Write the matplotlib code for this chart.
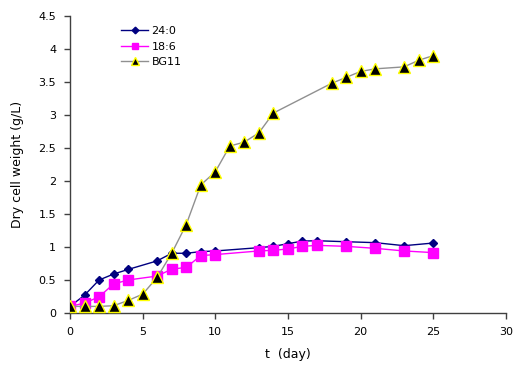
import matplotlib
matplotlib.use("Agg")
import matplotlib.pyplot as plt

days_24 = [0, 1, 2, 3, 4, 6, 7, 8, 9, 10, 13, 14, 15, 16, 17, 19, 21, 23, 25]
dcw_24 = [0.10, 0.27, 0.50, 0.59, 0.66, 0.79, 0.905, 0.905, 0.93, 0.94, 0.99, 1.01, 1.05, 1.09, 1.095, 1.08, 1.066, 1.02, 1.06]

days_18 = [0, 1, 2, 3, 4, 6, 7, 8, 9, 10, 13, 14, 15, 16, 17, 19, 21, 23, 25]
dcw_18 = [0.10, 0.15, 0.245, 0.44, 0.50, 0.56, 0.665, 0.69, 0.87, 0.885, 0.94, 0.95, 0.97, 1.01, 1.025, 1.01, 0.98, 0.94, 0.915]

days_bg = [0, 1, 2, 3, 4, 5, 6, 7, 8, 9, 10, 11, 12, 13, 14, 18, 19, 20, 21, 23, 24, 25]
dcw_bg = [0.10, 0.10, 0.10, 0.11, 0.19, 0.285, 0.54, 0.905, 1.34, 1.94, 2.14, 2.53, 2.59, 2.73, 3.03, 3.48, 3.57, 3.66, 3.70, 3.73, 3.83, 3.90]

fig = plt.figure(figsize=(5.13, 3.65), dpi=100)
ax = fig.add_axes([0.1365, 0.1425, 0.8495, 0.8135])

l1, = ax.plot(days_24, dcw_24, color="#000080", lw=1.0, marker="D", ms=4.5, mfc="#000080", mec="#000080", label="24:0", zorder=3)
l2, = ax.plot(days_18, dcw_18, color="#FF00FF", lw=1.0, marker="s", ms=6.5, mfc="#FF00FF", mec="#FF00FF", label="18:6", zorder=3)
l3, = ax.plot(days_bg, dcw_bg, color="#909090", lw=1.0, marker="^", ms=8, mfc="black", mec="#FFFF00", mew=1.0, label="BG11", zorder=4)

ax.set_xlim(0, 30)
ax.set_ylim(0, 4.5)
ax.set_xticks(range(0, 31, 5))
ax.set_yticks([0, 0.5, 1, 1.5, 2, 2.5, 3, 3.5, 4, 4.5])
ax.set_yticklabels(["0", "0.5", "1", "1.5", "2", "2.5", "3", "3.5", "4", "4.5"])

for s in ["top", "right"]:
    ax.spines[s].set_visible(False)
for s in ["left", "bottom"]:
    ax.spines[s].set_color("#404040")
    ax.spines[s].set_linewidth(1.0)
ax.tick_params(direction="out", length=4, width=1, color="#404040", labelsize=8, pad=6)

ax.set_xlabel("t  (day)", fontsize=9, labelpad=8)
ax.set_ylabel("Dry cell weight (g/L)", fontsize=9, labelpad=10)

ax.legend(loc="upper left", bbox_to_anchor=(0.095, 1.0), frameon=False, fontsize=8,
          handlelength=2.4, handletextpad=0.3, labelspacing=0.5, markerscale=0.75)

fig.savefig("out.png", dpi=100)
